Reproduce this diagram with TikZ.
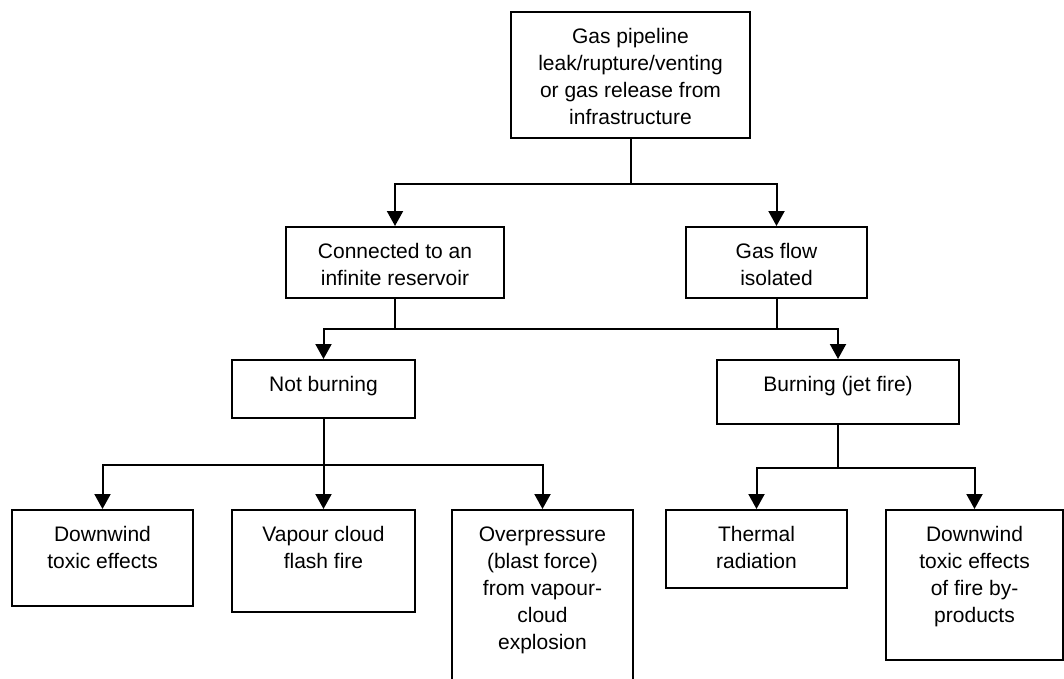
\documentclass[tikz,border=0pt]{standalone}
\usepackage{fontspec}
\setmainfont{Liberation Sans}
\usetikzlibrary{arrows.meta}
\newcommand{\bxt}[3]{\parbox[c][#2pt][t]{#1pt}{\centering\fontsize{21}{27}\selectfont\vspace*{12.5pt}\strut #3\par}}
\begin{document}
\begin{tikzpicture}[x=1pt,y=-1pt,
  bx/.style={draw=black,line width=2pt,inner sep=0pt,anchor=north west},
  ln/.style={line width=2pt},
  arr/.style={line width=2pt,-{Triangle[width=16pt,length=15pt]}}]
\useasboundingbox (0,0) rectangle (1064,679);
\node[bx] (top)  at (510,11)  {\bxt{239}{126}{Gas pipeline\\leak/rupture/venting\\or gas release from\\infrastructure}};
\node[bx] (conn) at (285,226) {\bxt{218}{71}{Connected to an\\infinite reservoir}};
\node[bx] (iso)  at (685,226) {\bxt{181}{71}{Gas flow\\isolated}};
\node[bx] (notb) at (231,359) {\bxt{183}{58}{Not burning}};
\node[bx] (burn) at (716,359) {\bxt{242}{64}{Burning (jet fire)}};
\node[bx] (b1) at (11,509)  {\bxt{181}{96}{Downwind\\toxic effects}};
\node[bx] (b2) at (231,509) {\bxt{183}{102}{Vapour cloud\\flash fire}};
\node[bx] (b3) at (451,509) {\bxt{181}{180}{Overpressure\\(blast force)\\from vapour-\\cloud\\explosion}};
\node[bx] (b4) at (665,509) {\bxt{181}{78}{Thermal\\radiation}};
\node[bx] (b5) at (885,509) {\bxt{177}{150}{Downwind\\toxic effects\\of fire by-\\products}};
% level 1
\draw[ln] (top.south) -- ++(0,45) coordinate (j1);
\draw[arr] (j1) -| (conn.north);
\draw[arr] (j1) -| (iso.north);
% level 2
\draw[ln] (conn.south) -- ++(0,30) coordinate (j2);
\draw[ln] (iso.south) -- ++(0,30) coordinate (j3);
\draw[ln] (j2) -- (j3);
\draw[arr] (j2) -| (notb.north);
\draw[arr] (j3) -| (burn.north);
% level 3
\draw[ln] (notb.south) -- ++(0,46) coordinate (j4);
\draw[arr] (j4) -| (b1.north);
\draw[arr] (j4) -- (b2.north);
\draw[arr] (j4) -| (b3.north);
\draw[ln] (burn.south) -- ++(0,43) coordinate (j5);
\draw[arr] (j5) -| (b4.north);
\draw[arr] (j5) -| (b5.north);
\end{tikzpicture}
\end{document}
